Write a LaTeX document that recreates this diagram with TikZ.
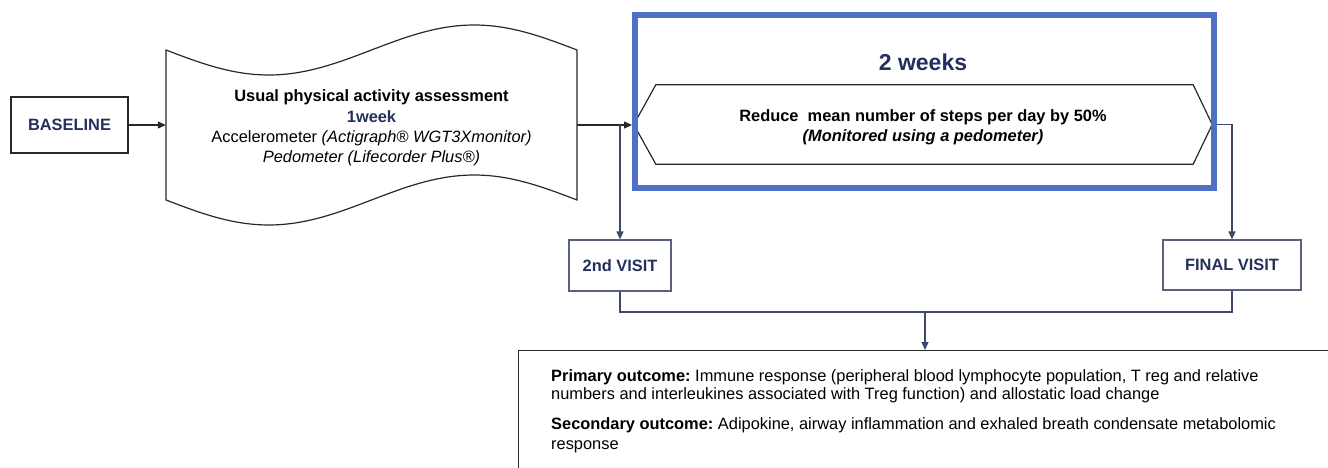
\documentclass[tikz,border=0pt]{standalone}
\usepackage{fontspec}
\setmainfont{Liberation Sans}
\usetikzlibrary{arrows.meta}
\definecolor{navy}{RGB}{35,48,92}
\definecolor{boxblue}{RGB}{78,112,200}
\definecolor{conn}{RGB}{62,72,108}
\definecolor{visitline}{RGB}{88,98,128}
\definecolor{outl}{RGB}{40,40,40}
\frenchspacing
\begin{document}
\begin{tikzpicture}[x=1pt,y=-1pt,
  txt/.style={font=\fontsize{16.4}{20.3}\selectfont},
  blackbox/.style={draw=outl, line width=1.2pt, inner sep=0},
  visitbox/.style={draw=visitline, line width=1.1pt, inner sep=0, text=navy, font=\fontsize{16.4}{20}\selectfont\bfseries},
  blkarrow/.style={draw=outl, line width=1.2pt, -{Triangle[length=8pt,width=7pt]}},
  navyarrow/.style={draw=conn, line width=1.2pt, -{Triangle[length=8pt,width=7pt]}},
  connline/.style={draw=conn, line width=1.2pt},
  outline/.style={draw=outl, line width=1.2pt},
  outtext/.style={font=\fontsize{16.4}{18}\selectfont, anchor=north west, align=left, inner sep=0}
]
\useasboundingbox (0,0) rectangle (1328,468);

% BASELINE
\node[blackbox, minimum width=117, minimum height=56, text=navy,
      font=\fontsize{16.4}{20}\selectfont\bfseries] (baseline) at (69.5,125) {BASELINE};

% wavy tape
\draw[outline] plot[domain=0:411,samples=80] ({166+\x},{50+25*sin(0.875912*\x)})
  -- plot[domain=411:0,samples=80] ({166+\x},{200+25*sin(0.875912*\x)}) -- cycle;
\node[inner sep=0, minimum width=411, minimum height=150] (usual) at (371.5,125) {};
\node[txt, align=center, inner sep=0] (usualtext) at (371.5,128)
  {\textbf{Usual physical activity assessment}\\
   {\color{navy}\bfseries 1week}\\
   Accelerometer \textit{(Actigraph® WGT3Xmonitor)}\\
   \textit{Pedometer (Lifecorder Plus®)}};

% hexagon
\node[inner sep=0, minimum width=578, minimum height=79] (hex) at (923,124.5) {};
\draw[outline] (hex.west) -- ([xshift=22pt]hex.north west) -- ([xshift=-19pt]hex.north east)
  -- (hex.east) -- ([xshift=-19pt]hex.south east) -- ([xshift=22pt]hex.south west) -- cycle;
\node[font=\fontsize{16.4}{20}\selectfont, align=center, inner sep=0] (hextext) at (923,127.5)
  {\textbf{Reduce\ \ mean number of steps per day by 50\%}\\
   \textbf{\textit{(Monitored using a pedometer)}}};

% blue 2 weeks box
\node[draw=boxblue, line width=6pt, minimum width=579, minimum height=173, inner sep=0] (period) at (924.5,101.5) {};
\node[text=navy, font=\fontsize{23}{26}\selectfont\bfseries, inner sep=0] (weeks) at (923,62) {2 weeks};

% visits
\node[visitbox, minimum width=102, minimum height=51] (visit2) at (620,265.5) {2nd VISIT};
\node[visitbox, minimum width=138, minimum height=50] (final) at (1232,265) {FINAL VISIT};

% outcomes box
\node[draw=outl, line width=1.2pt, anchor=north west, minimum width=840, minimum height=150, inner sep=0] (outcome) at (518,350) {};
\node[outtext] (primary) at (551,369.5)
  {\textbf{Primary outcome:} Immune response (peripheral blood lymphocyte population, T reg and relative\\
   numbers and interleukines associated with Treg function) and allostatic load change};
\node[outtext, font=\fontsize{16.4}{20}\selectfont] (secondary) at (551,417.5)
  {\textbf{Secondary outcome:} Adipokine, airway inflammation and exhaled breath condensate metabolomic\\
   response};

\coordinate (join) at (925,312);

% connectors
\draw[blkarrow] (baseline.east) -- (usual.west);
\draw[blkarrow] (usual.east) -- (usual.east -| period.west);
\draw[navyarrow] (usual.east -| visit2.north) -- (visit2.north);
\draw[navyarrow] (hex.east -| period.east) -- (hex.east -| final.north) -- (final.north);
\draw[connline] (visit2.south) |- (join);
\draw[connline] (final.south) |- (join);
\draw[navyarrow] (join) -- (join |- outcome.north);
\end{tikzpicture}
\end{document}
